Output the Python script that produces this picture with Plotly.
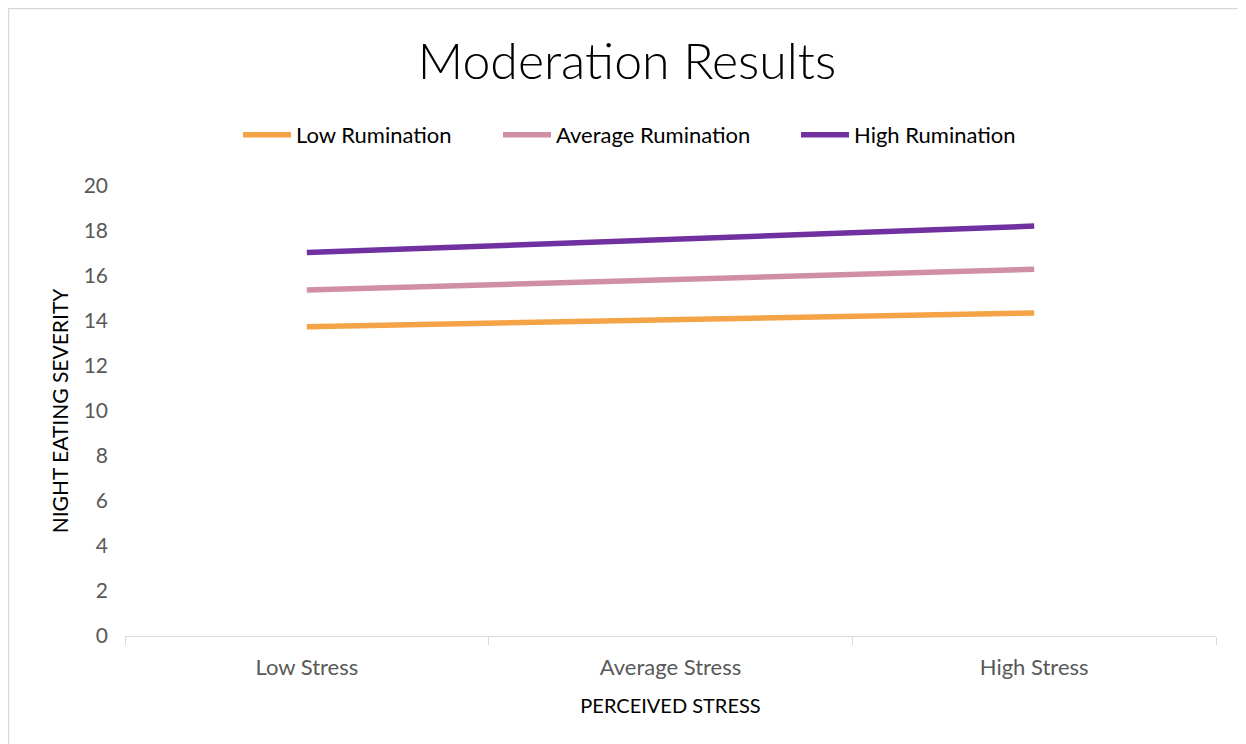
import plotly.graph_objects as go

categories = ["Low Stress", "Average Stress", "High Stress"]
series_names = ["Low Rumination", "Average Rumination", "High Rumination"]
low_rum = [13.75, 14.06, 14.36]
avg_rum = [15.38, 15.84, 16.30]
high_rum = [17.04, 17.63, 18.22]
colors = ["#F4A446", "#D18FA5", "#7030A0"]
y_ticks = [0, 2, 4, 6, 8, 10, 12, 14, 16, 18, 20]

# page is shown with an 8px body margin, so the figure is 8px smaller
OFF = 8
W, H = 1246 - OFF, 744 - OFF
L, R, T, B = 125 - OFF, 30, 186 - OFF, 108
pw, ph = W - L - R, H - T - B

def px_x(p):
    return (p - OFF - L) / pw

def px_y(p):
    return (H - B - (p - OFF)) / ph

legend_ids = ["legend", "legend2", "legend3"]
legend_starts = [238, 498, 796]

fig = go.Figure()
for name, vals, c, lg in zip(series_names, [low_rum, avg_rum, high_rum], colors, legend_ids):
    fig.add_trace(go.Scatter(x=categories, y=vals, mode="lines", name=name,
                             line=dict(color=c, width=5.5), legend=lg))

font = "Lato, 'Open Sans', sans-serif"
legend_layout = {}
for lg, xs in zip(legend_ids, legend_starts):
    legend_layout[lg] = dict(orientation="h", x=px_x(xs), xanchor="left",
                             y=px_y(135), yanchor="middle",
                             font=dict(size=22, color="#000000", family=font),
                             bgcolor="rgba(0,0,0,0)", itemwidth=48)

fig.update_layout(
    width=W, height=H,
    margin=dict(l=L, r=R, t=T, b=B),
    paper_bgcolor="white", plot_bgcolor="white",
    font=dict(family=font, color="#000000"),
    title=dict(text="Moderation Results", x=0.5, xanchor="center",
               y=1 - (61 - OFF) / H, yanchor="middle",
               font=dict(size=50, family=font, color="#000000", weight=300)),
    showlegend=True,
    **legend_layout,
)
fig.update_xaxes(type="category", range=[-0.5, 2.5], showgrid=False,
                 showline=True, linecolor="#D9D9D9", linewidth=1,
                 ticks="outside", tickson="boundaries", ticklen=8,
                 tickcolor="#D9D9D9", ticklabelstandoff=12,
                 tickfont=dict(size=22, color="#595959"),
                 title=dict(text="PERCEIVED STRESS", font=dict(size=20, color="#000000"),
                            standoff=19),
                 zeroline=False)
fig.update_yaxes(range=[0, 20], tickvals=y_ticks, showgrid=False, showline=False,
                 zeroline=False, ticks="", ticklabelstandoff=16,
                 tickfont=dict(size=21, color="#595959"),
                 title=dict(text="NIGHT EATING SEVERITY", font=dict(size=21, color="#000000"),
                            standoff=9))
fig.add_shape(type="rect", xref="paper", yref="paper",
              x0=px_x(8.5), x1=px_x(1244.5),
              y0=px_y(770), y1=px_y(8.5),
              line=dict(color="#D9D9D9", width=1.5), fillcolor="rgba(0,0,0,0)", layer="below")

fig.write_html("out.html")
